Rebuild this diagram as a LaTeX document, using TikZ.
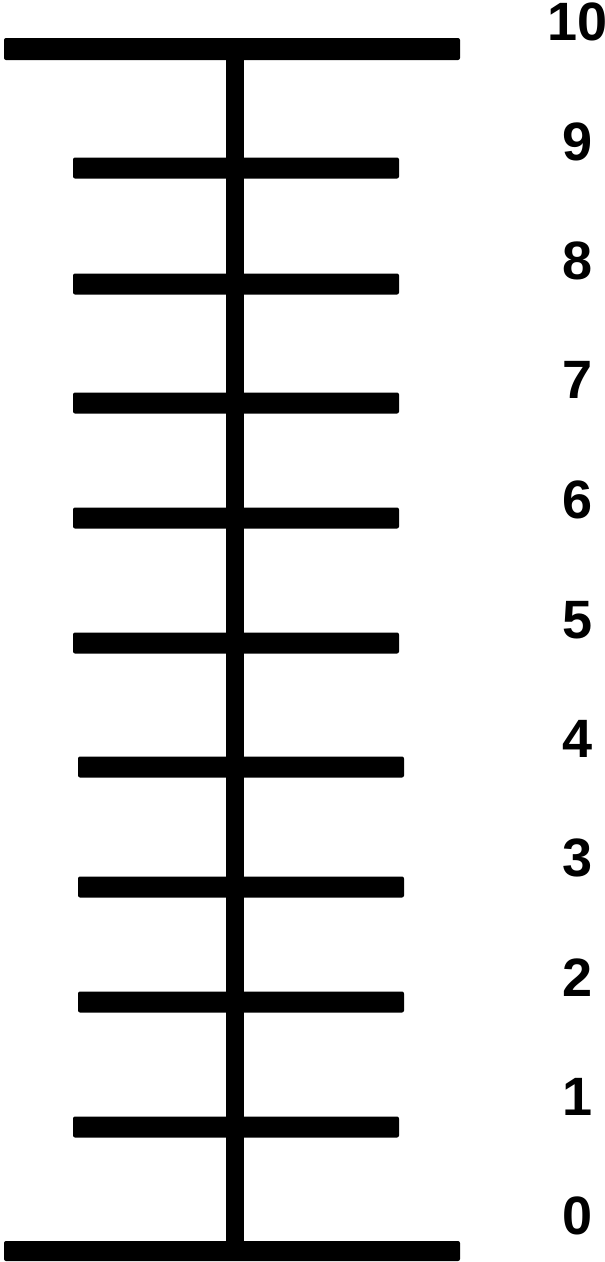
\documentclass[tikz,border=0pt]{standalone}
\usepackage{fontspec}
\setmainfont{Liberation Sans}
\begin{document}
\begin{tikzpicture}[x=1pt,y=-1pt,
  barshape/.style={fill=black,rounded corners=2pt},
  lab/.style={font=\bfseries\fontsize{54}{54}\selectfont,inner sep=0pt,anchor=center}]
\useasboundingbox (0,0) rectangle (605,1262);
% vertical axis
\fill[black] (226,50) rectangle (244,1250);
% end bars
\path[barshape] (4,38) rectangle (460,60);
\path[barshape] (4,1241) rectangle (460,1261);
% ticks
\foreach \y in {168,284,403,518,643,1127}
  \path[barshape] (73,\y-10.5) rectangle (399,\y+10.5);
\foreach \y in {767,887,1002}
  \path[barshape] (78,\y-10.5) rectangle (404,\y+10.5);
% labels
\foreach \n/\y in {10/22,9/142,8/261,7/380,6/500,5/620,4/739,3/858,2/978,1/1097,0/1216}
  \node[lab] (l\n) at (578,\y) {\n};
\end{tikzpicture}
\end{document}
